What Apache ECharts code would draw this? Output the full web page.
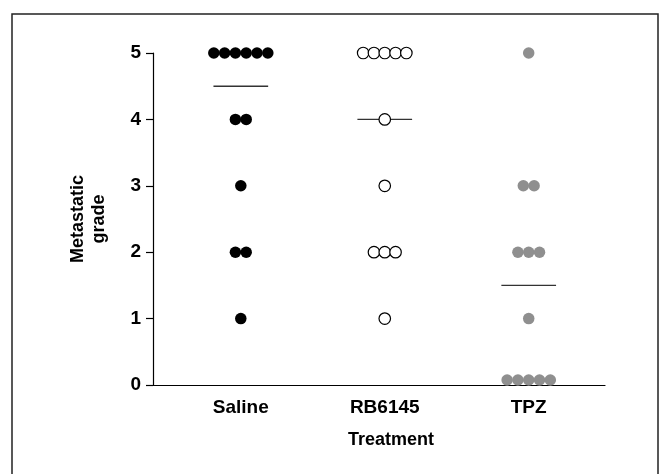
<!DOCTYPE html>
<html>
<head>
<meta charset="utf-8">
<script src="https://cdn.jsdelivr.net/npm/echarts@6/dist/echarts.min.js"></script>
<style>
  html, body { margin: 0; padding: 0; background: #fff; }
  #chart { width: 660px; height: 474px; }
</style>
</head>
<body>
<div id="chart"></div>
<script>
const categories = ['Saline', 'RB6145', 'TPZ']
const salineGrades = [5, 5, 5, 5, 5, 5, 4, 4, 3, 2, 2, 1]
const rb6145Grades = [5, 5, 5, 5, 5, 4, 3, 2, 2, 2, 1]
const tpzGrades = [5, 3, 3, 2, 2, 2, 1, 0, 0, 0, 0, 0]
const medians = [4.5, 4, 1.5]
const yTicks = [0, 1, 2, 3, 4, 5]

// horizontal step between dots sharing a grade (x units, 1 unit = category gap)
const step = 0.075
const halfLine = 0.19

// spread equal values side by side around the category centre
function spread(values, center) {
  const counts = {}
  values.forEach((v) => { counts[v] = (counts[v] || 0) + 1 })
  const seen = {}
  return values.map((v) => {
    const i = seen[v] || 0
    seen[v] = i + 1
    const item = { value: [center + (i - (counts[v] - 1) / 2) * step, v] }
    if (v === 0) item.symbolOffset = [0, -5]
    return item
  })
}

const chart = echarts.init(document.getElementById('chart'))

const labelFont = { fontFamily: 'Liberation Sans, Arial, sans-serif', fontWeight: 'bold', color: '#000' }

const option = {
  animation: false,
  graphic: [{
    type: 'rect',
    shape: { x: 12, y: 14, width: 646, height: 520 },
    style: { fill: 'none', stroke: '#222', lineWidth: 1.5 },
    silent: true
  }],
  grid: { left: 153, right: 55, top: 53, bottom: 89 },
  xAxis: {
    type: 'value',
    min: 0.39,
    max: 3.53,
    splitLine: { show: false },
    axisTick: { show: false },
    axisLine: { show: true, onZero: false, lineStyle: { color: '#000', width: 1.2 } },
    axisLabel: {
      customValues: [1, 2, 3],
      formatter: (v) => categories[Math.round(v) - 1] || '',
      margin: 13,
      fontSize: 19,
      ...labelFont
    },
    name: 'Treatment',
    nameLocation: 'middle',
    nameGap: 46,
    nameTextStyle: { fontSize: 18, padding: [0, 0, 0, 24], ...labelFont }
  },
  yAxis: {
    type: 'value',
    min: 0,
    max: 5,
    interval: 1,
    splitLine: { show: false },
    axisLine: { show: true, lineStyle: { color: '#000', width: 1.2 } },
    axisTick: { show: true, length: 7, lineStyle: { color: '#000', width: 1.2 } },
    axisLabel: {
      customValues: yTicks,
      margin: 12,
      fontSize: 19,
      ...labelFont
    },
    name: 'Metastatic\ngrade',
    nameLocation: 'middle',
    nameRotate: 90,
    nameGap: 43,
    nameTextStyle: { fontSize: 18, lineHeight: 21, ...labelFont }
  },
  series: [
    {
      type: 'scatter',
      symbolSize: 11.5,
      itemStyle: { color: '#000', opacity: 1 },
      data: spread(salineGrades, 1)
    },
    {
      type: 'scatter',
      symbolSize: 11.5,
      itemStyle: { color: '#fff', borderColor: '#000', borderWidth: 1.2, opacity: 1 },
      data: spread(rb6145Grades, 2)
    },
    {
      type: 'scatter',
      symbolSize: 11.5,
      itemStyle: { color: '#8f8f8f', opacity: 1 },
      data: spread(tpzGrades, 3)
    },
    {
      type: 'custom',
      z: 1,
      data: medians.map((m, i) => [i + 1, m]),
      renderItem: (params, api) => {
        const c = api.value(0)
        const m = api.value(1)
        const p1 = api.coord([c - halfLine, m])
        const p2 = api.coord([c + halfLine, m])
        return {
          type: 'line',
          shape: { x1: p1[0], y1: p1[1], x2: p2[0], y2: p2[1] },
          style: { stroke: '#333', lineWidth: 1.4 }
        }
      }
    }
  ]
}

chart.setOption(option)
</script>
</body>
</html>
